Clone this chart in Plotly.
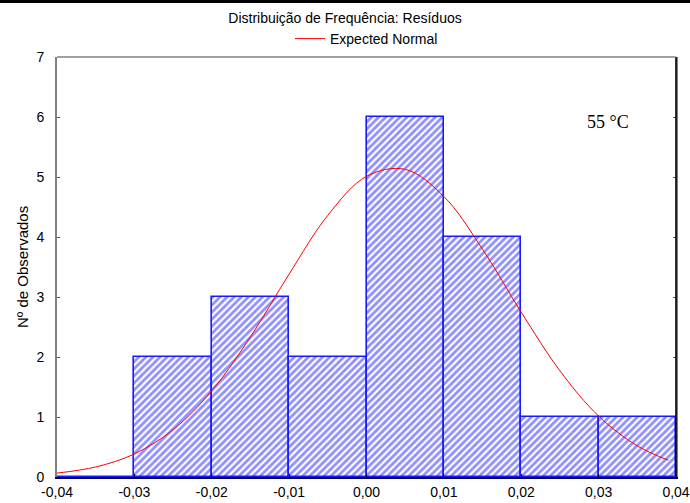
import plotly.graph_objects as go

# Histogram data (bin centers, counts)
bin_centers = [-0.035, -0.025, -0.015, -0.005, 0.005, 0.015, 0.025, 0.035]
counts = [0, 2, 3, 2, 6, 4, 1, 1]
bin_width = 0.01

# Expected normal curve
curve_x = [-0.04, -0.035, -0.03, -0.025, -0.02, -0.015, -0.01, -0.005, 0.0,
           0.005, 0.01, 0.015, 0.02, 0.025, 0.03, 0.035, 0.039]
curve_y = [0.065, 0.167, 0.384, 0.787, 1.436, 2.335, 3.382, 4.361, 5.011,
           5.128, 4.675, 3.796, 2.746, 1.769, 1.015, 0.519, 0.279]

x_tickvals = [-0.04, -0.03, -0.02, -0.01, 0.0, 0.01, 0.02, 0.03, 0.04]
x_ticktext = ["-0,04", "-0,03", "-0,02", "-0,01", "0,00", "0,01", "0,02", "0,03", "0,04"]
y_tickvals = [0, 1, 2, 3, 4, 5, 6, 7]

font_family = "Liberation Sans, Arial, sans-serif"

fig = go.Figure()
fig.add_trace(go.Bar(
    x=bin_centers, y=counts, width=bin_width,
    marker=dict(
        color="white",
        line=dict(color="#1a1aff", width=1.6),
        pattern=dict(shape="/", fgcolor="#2020ff", bgcolor="white",
                     size=5, solidity=0.55, fillmode="overlay"),
    ),
    showlegend=False, hoverinfo="skip",
))
fig.add_trace(go.Scatter(
    x=curve_x, y=curve_y, mode="lines", name="Expected Normal",
    line=dict(color="#ff0000", width=1, shape="spline"),
))

fig.update_layout(
    width=690, height=503,
    margin=dict(l=57, r=14, t=57, b=26, autoexpand=False),
    paper_bgcolor="white", plot_bgcolor="white",
    font=dict(family=font_family, size=14, color="black"),
    title=dict(text="Distribuição de Frequência: Resíduos", x=0.5, xanchor="center",
               y=1 - 18 / 503, yanchor="middle", font=dict(size=14)),
    legend=dict(orientation="h", x=0.5, xanchor="center", y=1 + (57 - 39) / 420,
                yanchor="middle", font=dict(size=14), bgcolor="rgba(0,0,0,0)",
                itemwidth=30),
    bargap=0,
    showlegend=True,
)
fig.update_xaxes(
    range=[-0.04, 0.04], tickvals=x_tickvals, ticktext=x_ticktext,
    showgrid=False, zeroline=False, showline=True, linecolor="#000060", linewidth=1.6,
    ticks="inside", ticklen=3, tickcolor="#000060", mirror=False,
    tickfont=dict(size=14), automargin=False, ticklabelstandoff=1,
)
fig.update_yaxes(
    range=[0, 7], tickvals=y_tickvals,
    showgrid=False, zeroline=False, showline=True, linecolor="#808080", linewidth=1.6,
    ticks="inside", ticklen=3, tickcolor="#555555", mirror="ticks",
    tickfont=dict(size=14), automargin=False, ticklabelstandoff=8,
)
# Y axis title
fig.add_annotation(x=(22 - 57) / 619, y=0.5, xref="paper", yref="paper",
                   text="Nº de Observados", textangle=-90, showarrow=False,
                   xanchor="center", yanchor="middle", font=dict(size=15))
# Right (black) and top (gray) frame lines, top black bar of the page
fig.add_shape(type="line", xref="paper", yref="paper", x0=1, x1=1, y0=0, y1=1,
              line=dict(color="black", width=1.6))
fig.add_shape(type="line", xref="paper", yref="paper", x0=0, x1=1, y0=1, y1=1,
              line=dict(color="#808080", width=1.6))
fig.add_shape(type="line", xref="paper", yref="paper", x0=-0.1, x1=1.03,
              y0=1 + 55.5 / 420, y1=1 + 55.5 / 420, line=dict(color="black", width=3))

fig.add_annotation(x=0.0312, y=5.92, xref="x", yref="y", text="55 °C", showarrow=False,
                   font=dict(family="Liberation Serif, Times New Roman, serif", size=18,
                             color="black"))

fig.write_html("out.html")
